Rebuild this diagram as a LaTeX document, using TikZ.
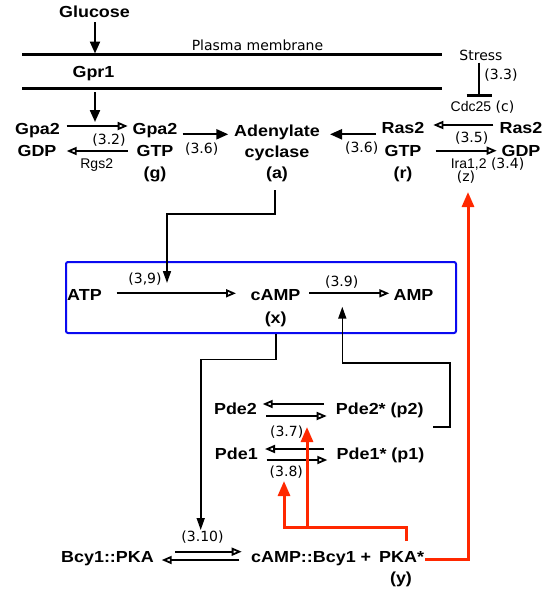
\documentclass[tikz,border=0pt]{standalone}
\usepackage{fontspec}
\newfontfamily\bfam[FakeStretch=1.12]{Liberation Sans}
\newfontfamily\dvfam{DejaVu Sans}
\newfontfamily\lsfam{Liberation Sans}
\usetikzlibrary{arrows.meta}
\definecolor{pkared}{RGB}{255,40,0}
\definecolor{boxblue}{RGB}{10,10,240}
\begin{document}
\begin{tikzpicture}[x=1pt,y=-1pt,
  nm/.style={font=\bfam\bfseries\fontsize{16}{19}\selectfont, inner sep=0pt, anchor=base},
  lab/.style={font=\dvfam\fontsize{14}{16}\selectfont, inner sep=0pt, anchor=base},
  enz/.style={font=\lsfam\fontsize{14}{16}\selectfont, inner sep=0pt, anchor=base},
  rx/.style={line width=1.8pt, -{Triangle[open,length=10pt,width=8pt]}},
  act/.style={line width=2.2pt, -{Triangle[length=12pt,width=10pt]}},
  link/.style={line width=1.6pt, -{Triangle[length=12pt,width=8pt]}},
  pkafb/.style={pkared, line width=3pt, -{Triangle[length=15pt,width=12pt]}},
  mem/.style={line width=3pt},
]
\useasboundingbox (0,0) rectangle (549,592);

% ---------- texts ----------
\node[nm] (glucose) at (94.5,17) {Glucose};
\node[lab] (pm) at (257.5,50) {Plasma membrane};
\node[nm] (gpr1) at (93.5,77) {Gpr1};
\node[lab] (stress) at (481,60) {Stress};
\node[lab] (r33) at (501,79) {(3.3)};
\node[lab] (cdc25) at (482.5,111.5) {{\lsfam Cdc25} (c)};

\node[nm] (gdpA) at (37.5,134) {Gpa2};
\node[nm] (gdpB) at (37,156) {GDP};
\node[nm] (gtpA) at (155,134) {Gpa2};
\node[nm] (gtpB) at (155,156) {GTP};
\node[nm] (gtpC) at (155,178) {(g)};
\node[nm] (acA) at (277,136) {Adenylate};
\node[nm] (acB) at (277,157) {cyclase};
\node[nm] (acC) at (277,178) {(a)};
\node[nm] (rgtpA) at (403,133) {Ras2};
\node[nm] (rgtpB) at (403,156) {GTP};
\node[nm] (rgtpC) at (403,178) {(r)};
\node[nm] (rgdpA) at (521,133) {Ras2};
\node[nm] (rgdpB) at (521,156) {GDP};

\node[lab] (r32) at (109,144) {(3.2)};
\node[enz] (rgs2) at (96.7,168) {Rgs2};
\node[lab] (r36a) at (201.7,153) {(3.6)};
\node[lab] (r36b) at (361.7,152.7) {(3.6)};
\node[lab] (r35) at (471.7,142.7) {(3.5)};
\node[lab] (ira) at (487.5,168.3) {{\lsfam Ira1,2} (3.4)};
\node[lab] (z) at (466,181) {(z)};

\node[draw=boxblue, line width=2pt, rounded corners=2pt, minimum width=390pt,
      minimum height=71pt, inner sep=0pt] (cbox) at (261,297.5) {};
\node[nm] (atp) at (84.5,300.7) {ATP};
\node[nm] (camp) at (275.5,300.7) {cAMP};
\node[nm] (x) at (275.7,323) {(x)};
\node[nm] (amp) at (413.5,300.7) {AMP};
\node[lab] (r39a) at (145,283.3) {(3,9)};
\node[lab] (r39b) at (341.7,286.7) {(3.9)};

\node[nm] (pde2) at (235.5,414.3) {Pde2};
\node[nm] (pde2s) at (379.7,414.3) {Pde2* (p2)};
\node[nm] (pde1) at (236.3,459.5) {Pde1};
\node[nm] (pde1s) at (380.5,459.5) {Pde1* (p1)};
\node[lab] (r37) at (286.7,436) {(3.7)};
\node[lab] (r38) at (286.3,476) {(3.8)};

\node[nm] (bcy) at (107.5,562) {Bcy1::PKA};
\node[nm, anchor=base west] (cbcy) at (251,562) {cAMP::Bcy1 +};
\node[nm, anchor=base west] (pka) at (379,562) {PKA*};
\node[nm] (y) at (401,583) {(y)};
\node[lab] (r310) at (202.5,541.7) {(3.10)};

% ---------- coordinates ----------
\coordinate (gluA) at (95,22);   \coordinate (gluB) at (95,53.5);
\coordinate (m1a) at (22,54.3);  \coordinate (m1b) at (441.7,54.3);
\coordinate (m2a) at (22,88.3);  \coordinate (m2b) at (441.7,88.3);
\coordinate (gprA) at (95,92);   \coordinate (gprB) at (95,122);
\coordinate (stA) at (479.3,62.7); \coordinate (stB) at (479.3,95.7);
\coordinate (barL) at (466.7,95.7); \coordinate (barR) at (491.7,95.7);

% ---------- membrane ----------
\draw[mem] (m1a) -- (m1b);
\draw[mem] (m2a) -- (m2b);
\draw[act] (gluA) -- (gluB);
\draw[act] (gprA) -- (gprB);

% ---------- stress inhibition ----------
\draw[line width=2pt] (stA) -- (stB);
\draw[line width=3pt] (barL) -- (barR);

% ---------- G protein / Ras ----------
\draw[rx] (66.7,126) -- (127.7,126);
\draw[rx] (127.7,151) -- (66.7,151);
\draw[act] (182.7,134.3) -- (228.3,134.3);
\draw[act] (376,134.3) -- (330,134.3);
\draw[rx] (493.3,125) -- (433.3,125);
\draw[rx] (435.7,150.7) -- (496.7,150.7);

% ---------- cAMP box ----------
\draw[link] (275,190) -- (275,214) -- (167,214) -- (167,283);
\draw[rx] (116.7,293.3) -- (236,293.3);
\draw[rx] (309.3,293.3) -- (389.3,293.3);
\draw[link] (433.3,426.7) -- (450,426.7) -- (450,362.7) -- (342.3,362.7) -- (342.3,306.7);
\draw[link] (275.7,334) -- (275.7,359.3) -- (200.7,359.3) -- (200.7,530);

% ---------- Pde ----------
\draw[rx] (324,404) -- (262.7,404);
\draw[rx] (266,416) -- (326.7,416);
\draw[rx] (324,449) -- (265,449);
\draw[rx] (266.7,460) -- (327.3,460);

% ---------- PKA ----------
\draw[rx] (175,551.7) -- (241.7,551.7);
\draw[rx] (239.3,560) -- (161.7,560);

\draw[pkafb] (406,541) -- (406,527) -- (284,527) -- (284,481);
\draw[pkafb] (307,527) -- (307,427);
\draw[pkafb] (425,559) -- (468,559) -- (468,192);
\end{tikzpicture}
\end{document}
